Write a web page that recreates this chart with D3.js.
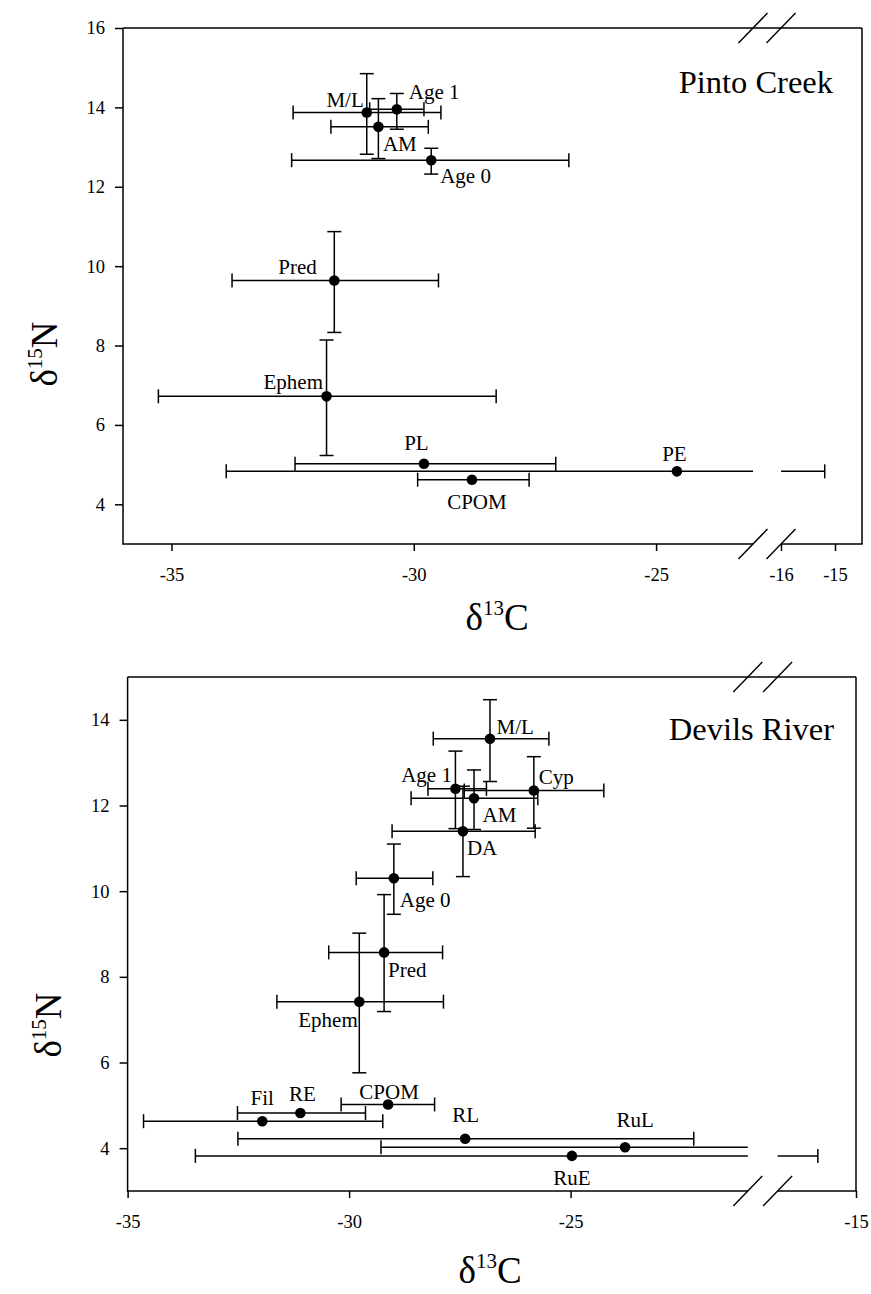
<!DOCTYPE html>
<html>
<head>
<meta charset="utf-8">
<script src="https://cdn.jsdelivr.net/npm/d3@7"></script>
<style>
  html, body { margin: 0; padding: 0; background: #fff; }
  svg { display: block; }
</style>
</head>
<body>
<svg id="chart" width="871" height="1294"></svg>
<script>
// ---------------- DATA ----------------
// Pinto Creek
const pintoLabels = ["M/L", "Age 1", "AM", "Age 0", "Pred", "Ephem", "PL", "PE", "CPOM"];
const pintoC      = [-30.97, -30.35, -30.73, -29.64, -31.64, -31.80, -29.79, -24.57, -28.80];
const pintoCLow   = [-32.49, -30.91, -31.71, -32.52, -33.75, -35.27, -32.45, -33.87, -29.92];
const pintoCHigh  = [-29.44, -29.79, -29.70, -26.80, -29.49, -28.30, -27.07, -15.19, -27.62];
const pintoN      = [13.87, 13.95, 13.51, 12.67, 9.64, 6.72, 5.02, 4.83, 4.62];
const pintoNLow   = [12.82, 13.45, 12.71, 12.32, 8.33, 5.23, null, null, null];
const pintoNHigh  = [14.85, 14.35, 14.22, 12.97, 10.87, 8.14, null, null, null];
const pintoXTicks = [-35, -30, -25, -16, -15];
const pintoYTicks = [4, 6, 8, 10, 12, 14, 16];

// Devils River
const devilsLabels = ["M/L", "Age 1", "AM", "Cyp", "DA", "Age 0", "Pred", "Ephem", "Fil", "RE", "CPOM", "RL", "RuL", "RuE"];
const devilsC      = [-26.82, -27.60, -27.18, -25.83, -27.43, -28.99, -29.21, -29.77, -31.96, -31.10, -29.12, -27.38, -23.77, -24.97];
const devilsCLow   = [-28.10, -28.22, -28.60, -27.40, -29.03, -29.84, -30.46, -31.63, -34.64, -32.52, -30.18, -32.51, -29.28, -33.47];
const devilsCHigh  = [-25.49, -26.90, -25.74, -24.25, -25.80, -28.11, -27.89, -27.87, -29.24, -29.63, -28.07, -22.22, -18.30, -16.46];
const devilsN      = [13.56, 12.39, 12.17, 12.35, 11.40, 10.30, 8.57, 7.42, 4.63, 4.82, 5.02, 4.22, 4.02, 3.82];
const devilsNLow   = [12.56, 11.46, 11.44, 11.47, 10.34, 9.46, 7.19, 5.76, null, null, null, null, null, null];
const devilsNHigh  = [14.47, 13.27, 12.83, 13.14, 12.45, 11.10, 9.92, 9.02, null, null, null, null, null, null];
const devilsXTicks = [-35, -30, -25, -15];
const devilsYTicks = [4, 6, 8, 10, 12, 14];

// ---------------- LAYOUT / STYLE ----------------
const FONT = "'Liberation Serif', 'Times New Roman', Times, serif";
const svg = d3.select("#chart");

// label offsets in pixels relative to each point [dx, dy, anchor]
const pintoLabelPos = [
  [-3, -5.5, "end"], [12, -10, "start"], [4.5, 24, "start"], [9, 23, "start"],
  [-17.5, -6.5, "end"], [-3.5, -7.5, "end"], [-7.5, -13.5, "middle"],
  [-2.5, -10, "middle"], [5, 29, "middle"]
];
const devilsLabelPos = [
  [6.5, -4.5, "start"], [-3.5, -7, "end"], [8.5, 24, "start"], [5, -6.5, "start"],
  [4, 24, "start"], [6, 29, "start"], [4, 24.5, "start"], [-1.5, 25.5, "end"],
  [0, -16, "middle"], [2, -12.5, "middle"], [1, -5.5, "middle"], [0.5, -17, "middle"],
  [10, -20.5, "middle"], [0, 29.5, "middle"]
];

function panel(cfg) {
  const g = svg.append("g");
  const x = d3.scaleLinear().domain(cfg.xDomain).range(cfg.xRange);
  const y = d3.scaleLinear().domain(cfg.yDomain).range([cfg.bottom, cfg.top]);
  const L = cfg.xRange[0], R = cfg.xRange[3], T = cfg.top, B = cfg.bottom;
  const gap1 = cfg.xRange[1], gap2 = cfg.xRange[2];
  const sw = 1.5;

  // frame
  const frame = g.append("g").attr("stroke", "#000").attr("stroke-width", sw).attr("fill", "none");
  frame.append("line").attr("x1", L).attr("x2", L).attr("y1", T).attr("y2", B + 0.75);
  frame.append("line").attr("x1", L).attr("x2", R).attr("y1", T).attr("y2", T);
  frame.append("line").attr("x1", R).attr("x2", R).attr("y1", T).attr("y2", B);
  frame.append("line").attr("x1", L).attr("x2", gap1).attr("y1", B).attr("y2", B);
  frame.append("line").attr("x1", gap2).attr("x2", R + 0.75).attr("y1", B).attr("y2", B);

  // break slashes
  [T, B].forEach(yy => {
    [gap1, gap2].forEach(xx => {
      frame.append("line")
        .attr("x1", xx - 14.5).attr("y1", yy + 15)
        .attr("x2", xx + 14.5).attr("y2", yy - 15)
        .attr("stroke-width", 1.4);
    });
  });

  // y axis ticks
  const yAxis = d3.axisLeft(y).tickValues(cfg.yTicks).tickSize(8).tickPadding(10).tickFormat(d3.format("d"));
  const ya = g.append("g").attr("transform", `translate(${L},0)`).call(yAxis);
  ya.select(".domain").remove();
  ya.selectAll(".tick line").attr("stroke-width", sw);
  ya.selectAll("text").attr("font-family", FONT).attr("font-size", 18.5).attr("fill", "#000");

  // x axis ticks
  const xAxis = d3.axisBottom(x).tickValues(cfg.xTicks).tickSize(7).tickPadding(17).tickFormat(d3.format("d"));
  const xa = g.append("g").attr("transform", `translate(0,${B})`).call(xAxis);
  xa.select(".domain").remove();
  xa.selectAll(".tick line").attr("stroke-width", sw);
  xa.selectAll("text").attr("font-family", FONT).attr("font-size", 18.5).attr("fill", "#000")
    .text(d => d3.format("d")(d).replace("\u2212", "-"));

  // error bars
  const cap = 7;
  const eb = g.append("g").attr("stroke", "#000").attr("stroke-width", 1.5).attr("fill", "none");
  cfg.C.forEach((c, i) => {
    const px = x(c), py = y(cfg.N[i]);
    const lo = cfg.CLow[i], hi = cfg.CHigh[i];
    const xl = x(lo), xh = x(hi);
    const inGap = hi > cfg.xDomain[1] && hi < cfg.xDomain[2];
    const crosses = hi >= cfg.xDomain[2];
    // horizontal bar
    if (crosses) {
      eb.append("line").attr("x1", xl).attr("x2", gap1).attr("y1", py).attr("y2", py);
      eb.append("line").attr("x1", gap2).attr("x2", xh).attr("y1", py).attr("y2", py);
    } else if (inGap) {
      eb.append("line").attr("x1", xl).attr("x2", gap1).attr("y1", py).attr("y2", py);
    } else {
      eb.append("line").attr("x1", xl).attr("x2", xh).attr("y1", py).attr("y2", py);
    }
    eb.append("line").attr("x1", xl).attr("x2", xl).attr("y1", py - cap).attr("y2", py + cap);
    if (!inGap) eb.append("line").attr("x1", xh).attr("x2", xh).attr("y1", py - cap).attr("y2", py + cap);
    // vertical bar
    if (cfg.NLow[i] !== null) {
      const yl = y(cfg.NLow[i]), yh = y(cfg.NHigh[i]);
      eb.append("line").attr("x1", px).attr("x2", px).attr("y1", yl).attr("y2", yh);
      eb.append("line").attr("x1", px - cap).attr("x2", px + cap).attr("y1", yl).attr("y2", yl);
      eb.append("line").attr("x1", px - cap).attr("x2", px + cap).attr("y1", yh).attr("y2", yh);
    }
  });

  // points
  g.append("g").selectAll("circle").data(cfg.C).join("circle")
    .attr("cx", d => x(d)).attr("cy", (d, i) => y(cfg.N[i])).attr("r", 5.3).attr("fill", "#000");

  // point labels
  g.append("g").selectAll("text").data(cfg.labels).join("text")
    .attr("x", (d, i) => x(cfg.C[i]) + cfg.labelPos[i][0])
    .attr("y", (d, i) => y(cfg.N[i]) + cfg.labelPos[i][1])
    .attr("text-anchor", (d, i) => cfg.labelPos[i][2])
    .attr("font-family", FONT).attr("font-size", 21).attr("fill", "#000")
    .text(d => d);

  // panel title
  g.append("text").attr("x", cfg.titleX).attr("y", cfg.titleY).attr("text-anchor", "end")
    .attr("font-family", FONT).attr("font-size", 32.5).attr("fill", "#000").text(cfg.title);

  // x axis title
  const xt = g.append("text").attr("x", cfg.xTitleX).attr("y", cfg.xTitleY).attr("text-anchor", "middle")
    .attr("font-family", FONT).attr("font-size", 37).attr("fill", "#000");
  xt.append("tspan").text("\u03B4");
  xt.append("tspan").attr("font-size", 21).attr("dy", -15).text("13");
  xt.append("tspan").attr("dy", 15).text("C");

  // y axis title
  const yt = g.append("text")
    .attr("transform", `translate(${cfg.yTitleX},${cfg.yTitleY}) rotate(-90)`)
    .attr("text-anchor", "middle")
    .attr("font-family", FONT).attr("font-size", 37).attr("fill", "#000");
  yt.append("tspan").text("\u03B4");
  yt.append("tspan").attr("font-size", 21).attr("dy", -15).text("15");
  yt.append("tspan").attr("dy", 15).text("N");
}

panel({
  labels: pintoLabels, C: pintoC, CLow: pintoCLow, CHigh: pintoCHigh,
  N: pintoN, NLow: pintoNLow, NHigh: pintoNHigh,
  xTicks: pintoXTicks, yTicks: pintoYTicks, labelPos: pintoLabelPos,
  xDomain: [-36, -23, -16, -14.5], xRange: [123, 753, 781, 862],
  yDomain: [3, 16], top: 28, bottom: 544,
  title: "Pinto Creek", titleX: 833, titleY: 93,
  xTitleX: 497, xTitleY: 630, yTitleX: 57, yTitleY: 354
});

panel({
  labels: devilsLabels, C: devilsC, CLow: devilsCLow, CHigh: devilsCHigh,
  N: devilsN, NLow: devilsNLow, NHigh: devilsNHigh,
  xTicks: devilsXTicks, yTicks: devilsYTicks, labelPos: devilsLabelPos,
  xDomain: [-35, -21, -18, -15], xRange: [127.6, 747.8, 777.6, 856],
  yDomain: [3, 15], top: 677, bottom: 1191,
  title: "Devils River", titleX: 834, titleY: 740,
  xTitleX: 490, xTitleY: 1283, yTitleX: 61, yTitleY: 1025
});
</script>
</body>
</html>
